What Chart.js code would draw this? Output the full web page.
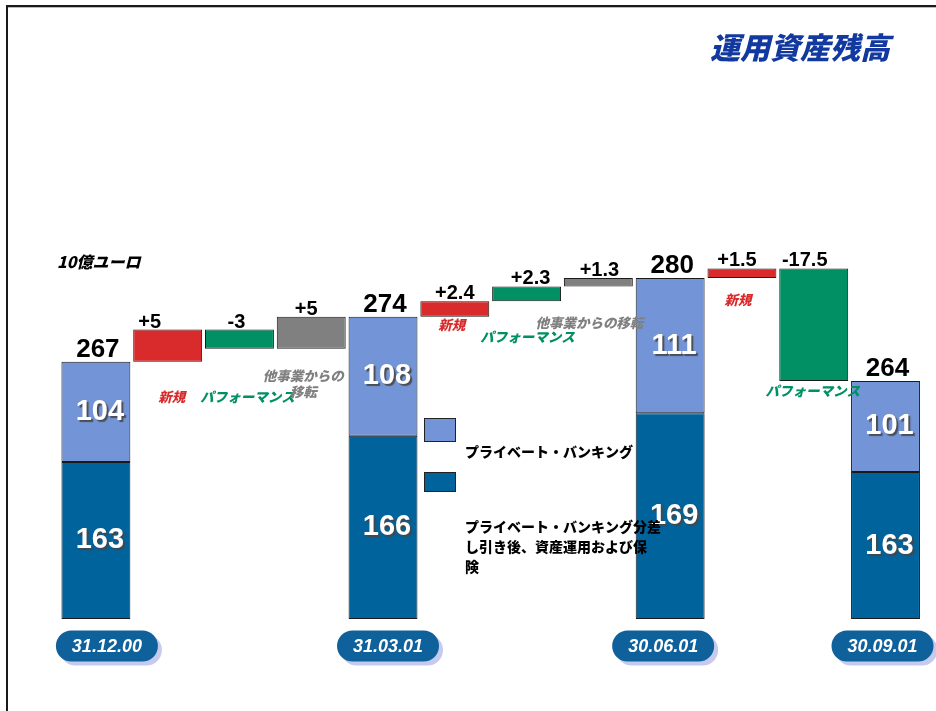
<!DOCTYPE html>
<html>
<head>
<meta charset="utf-8">
<script src="https://cdn.jsdelivr.net/npm/chart.js@4/dist/chart.umd.min.js"></script>
<style>
html,body{margin:0;padding:0;background:#fff;}
#wrap{width:936px;height:711px;position:relative;}
</style>
</head>
<body>
<div id="wrap"><canvas id="c"></canvas></div>
<script>
// ---------- DATA ----------
const categories = ['31.12.00','新規','パフォーマンス','他事業からの移転','31.03.01','新規','パフォーマンス','他事業からの移転','30.06.01','新規','パフォーマンス','30.09.01'];
const totals         = [267, null, null, null, 274, null, null, null, 280, null, null, 264];
const privateBanking = [104, null, null, null, 108, null, null, null, 111, null, null, 101];
const assetMgmtInsurance = [163, null, null, null, 166, null, null, null, 169, null, null, 163];
const changes        = [null, 5, -3, 5, null, 2.4, 2.3, 1.3, null, 1.5, -17.5, null];
const legendLabels   = ['プライベート・バンキング', 'プライベート・バンキング分差し引き後、資産運用および保険'];
const titleText = '運用資産残高';
const unitText  = '10億ユーロ';

// ---------- STYLE ----------
const Y_MIN = 227, Y_MAX = 317;
const COL_LIGHT = '#7394d6', COL_DARK = '#00639c';
const KIND_COLORS = {'新規':'#d92b2b','パフォーマンス':'#009063','他事業からの移転':'#808080'};
const LATIN = "'Liberation Sans', Arial, sans-serif";
const JP = "'Noto Sans CJK JP', 'Noto Sans', sans-serif";
const changeLabelDx = [0,-18,-3,-5,0,0,4,1,0,-5,-9,0];
const subLabelPos = [null,{dx:4,dy:35},{dx:8,dy:48},{dx:-8,dy:27,wrap:6},null,{dx:-3,dy:8},{dx:1,dy:36},{dx:-9,dy:36},null,{dx:-4,dy:22},{dx:-1,dy:10},null];
const pillDx = [11,5,-7,-3];
const legendLines = [[legendLabels[0]], [legendLabels[1].slice(0,14), legendLabels[1].slice(14,27), legendLabels[1].slice(27)]];

// ---------- BUILD WATERFALL ----------
const darkData = [], lightData = [], changeData = [], changeColors = [];
let running = null;
categories.forEach((c, i) => {
  if (totals[i] !== null) {
    const t = totals[i];
    const split = Y_MIN + (t - Y_MIN) * assetMgmtInsurance[i] / t;
    darkData.push([Y_MIN, split]);
    lightData.push([split, t]);
    changeData.push(null);
    changeColors.push('rgba(0,0,0,0)');
    running = t;
  } else {
    darkData.push(null);
    lightData.push(null);
    const start = running, end = running + changes[i];
    changeData.push([start, end]);
    changeColors.push(KIND_COLORS[c]);
    running = end;
  }
});

function fmtChange(v){ return (v > 0 ? '+' : '') + v; }

function roundRect(ctx, x, y, w, h, r){
  ctx.beginPath();
  ctx.moveTo(x + r, y);
  ctx.lineTo(x + w - r, y);
  ctx.arc(x + w - r, y + r, r, -Math.PI/2, Math.PI/2);
  ctx.lineTo(x + r, y + h);
  ctx.arc(x + r, y + r, r, Math.PI/2, Math.PI*1.5);
  ctx.closePath();
}

const overlay = {
  id: 'overlay',
  beforeDraw(chart) {
    const ctx = chart.ctx;
    ctx.save();
    ctx.fillStyle = '#fff';
    ctx.fillRect(0, 0, chart.width, chart.height);
    // frame
    ctx.fillStyle = '#1a1a1a';
    ctx.fillRect(6, 5, chart.width - 6, 2);
    ctx.fillRect(6, 5, 2, chart.height - 5);
    ctx.fillStyle = '#bbbbbb';
    ctx.fillRect(8, 7, chart.width - 8, 1);
    // title
    ctx.font = "italic 900 30px " + JP;
    ctx.fillStyle = '#12399f';
    ctx.textAlign = 'center';
    ctx.textBaseline = 'middle';
    ctx.fillText(titleText, 800, 48);
    // unit
    ctx.font = "italic 900 16px " + JP;
    ctx.fillStyle = '#000';
    ctx.textAlign = 'left';
    ctx.fillText(unitText, 57, 262);
    ctx.restore();
  },
  afterDatasetsDraw(chart) {
    const ctx = chart.ctx;
    const mDark = chart.getDatasetMeta(0), mLight = chart.getDatasetMeta(1), mChg = chart.getDatasetMeta(2);
    ctx.save();
    let pill = 0;
    categories.forEach((c, i) => {
      if (totals[i] !== null) {
        const d = mDark.data[i], l = mLight.data[i];
        const top = Math.min(l.y, l.base);
        // total label
        ctx.font = "bold 26px " + LATIN;
        ctx.fillStyle = '#000';
        ctx.textAlign = 'center';
        ctx.textBaseline = 'alphabetic';
        ctx.fillText(String(totals[i]), l.x + 2, top - 5);
        // segment labels
        ctx.font = "bold 29px " + LATIN;
        ctx.textBaseline = 'middle';
        ctx.shadowColor = 'rgba(70,70,70,0.9)';
        ctx.shadowOffsetX = 2; ctx.shadowOffsetY = 2; ctx.shadowBlur = 1;
        ctx.fillStyle = '#fff';
        ctx.fillText(String(privateBanking[i]), l.x + 4, (l.y + l.base) / 2);
        ctx.fillText(String(assetMgmtInsurance[i]), d.x + 4, (d.y + d.base) / 2);
        ctx.shadowColor = 'transparent';
        ctx.shadowOffsetX = 0; ctx.shadowOffsetY = 0; ctx.shadowBlur = 0;
        // date pill
        const cx = d.x + pillDx[pill++], cy = 646, w = 102, h = 31;
        ctx.fillStyle = '#c6cbee';
        roundRect(ctx, cx - w/2 + 4, cy - h/2 + 4, w, h, h/2); ctx.fill();
        ctx.fillStyle = '#0f619c';
        roundRect(ctx, cx - w/2, cy - h/2, w, h, h/2); ctx.fill();
        ctx.font = "italic bold 18px " + LATIN;
        ctx.fillStyle = '#fff';
        ctx.textAlign = 'center';
        ctx.textBaseline = 'middle';
        ctx.fillText(c, cx, cy + 1);
      } else {
        const e = mChg.data[i];
        const top = Math.min(e.y, e.base), bottom = Math.max(e.y, e.base);
        ctx.font = "bold 20px " + LATIN;
        ctx.fillStyle = '#000';
        ctx.textAlign = 'center';
        ctx.textBaseline = 'alphabetic';
        ctx.fillText(fmtChange(changes[i]), e.x + changeLabelDx[i], top - 2);
        const p = subLabelPos[i];
        ctx.font = "italic 900 13.5px " + JP;
        ctx.fillStyle = KIND_COLORS[c];
        ctx.textBaseline = 'middle';
        if (p.wrap) {
          ctx.fillText(c.slice(0, p.wrap), e.x + p.dx, bottom + p.dy);
          ctx.fillText(c.slice(p.wrap), e.x + p.dx, bottom + p.dy + 16);
        } else {
          ctx.fillText(c, e.x + p.dx, bottom + p.dy);
        }
      }
    });
    // legend
    const boxes = [{y:418,h:24,col:COL_LIGHT,ty:452},{y:472,h:20,col:COL_DARK,ty:527}];
    boxes.forEach((b, k) => {
      ctx.fillStyle = b.col;
      ctx.fillRect(424, b.y, 32, b.h);
      ctx.strokeStyle = '#222';
      ctx.lineWidth = 1;
      ctx.strokeRect(424.5, b.y + 0.5, 31, b.h - 1);
      ctx.font = "900 14px " + JP;
      ctx.fillStyle = '#000';
      ctx.textAlign = 'left';
      ctx.textBaseline = 'middle';
      legendLines[k].forEach((ln, j) => ctx.fillText(ln, 465, b.ty + j * 20));
    });
    ctx.restore();
  }
};

new Chart(document.getElementById('c'), {
  type: 'bar',
  data: {
    labels: categories,
    datasets: [
      { label: legendLabels[1], data: darkData, backgroundColor: COL_DARK, borderColor: '#1a1a1a', borderWidth: 1, borderSkipped: false },
      { label: legendLabels[0], data: lightData, backgroundColor: COL_LIGHT, borderColor: '#1a1a1a', borderWidth: 1, borderSkipped: false },
      { label: '増減', data: changeData, backgroundColor: changeColors, borderColor: '#1a1a1a', borderWidth: 1, borderSkipped: false }
    ]
  },
  options: {
    responsive: true,
    maintainAspectRatio: false,
    animation: false,
    devicePixelRatio: 1,
    barPercentage: 0.96,
    categoryPercentage: 1,
    layout: { padding: { left: 60, right: 14.6, top: 40, bottom: 92 } },
    plugins: { legend: { display: false }, tooltip: { enabled: false }, title: { display: false } },
    scales: {
      x: { display: false, stacked: true },
      y: { display: false, stacked: false, min: Y_MIN, max: Y_MAX }
    }
  },
  plugins: [overlay]
});
</script>
</body>
</html>
